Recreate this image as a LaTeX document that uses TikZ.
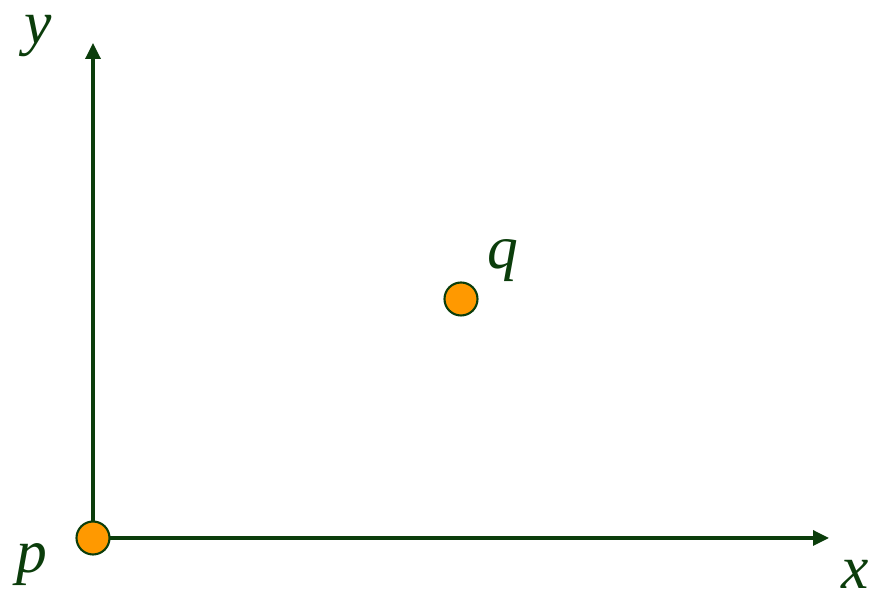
\documentclass[tikz,border=0pt]{standalone}
\usepackage{fontspec}
\setmainfont{Liberation Serif}
\usetikzlibrary{arrows.meta}
\definecolor{axisgreen}{HTML}{0B3D0B}
\definecolor{dotorange}{HTML}{FF9900}
\tikzset{
	axis/.style={line width=1.9pt, draw=axisgreen, -{Triangle[width=0.3cm, length=0.32cm]}},
	dot/.style={circle, fill=dotorange, draw=axisgreen, line width=1.2pt, minimum size=0.66cm, inner sep=0pt},
	lbl/.style={text=axisgreen, font=\fontsize{35}{40}\selectfont\itshape, inner sep=0pt}
}
\begin{document}
\begin{tikzpicture}
	\useasboundingbox (0, 0) rectangle (17.4, 11.9);
	% the two points
	\coordinate (o) at (1.86, 1.14);
	\coordinate (ytip) at (1.86, 11.04);
	\coordinate (xtip) at (16.58, 1.14);
	% axes
	\draw[axis] (o) -- (ytip);
	\draw[axis] (o) -- (xtip);
	\node[dot] (p) at (o) {};
	\node[dot] (q) at (9.22, 5.92) {};
	% labels
	\node[lbl] (ylbl) at (0.76, 11.18) {y};
	\node[lbl] (xlbl) at (17.1, 0.42) {x};
	\node[lbl] (plbl) at (0.64, 0.6) {p};
	\node[lbl] (qlbl) at (10.06, 6.68) {q};
\end{tikzpicture}
\end{document}
